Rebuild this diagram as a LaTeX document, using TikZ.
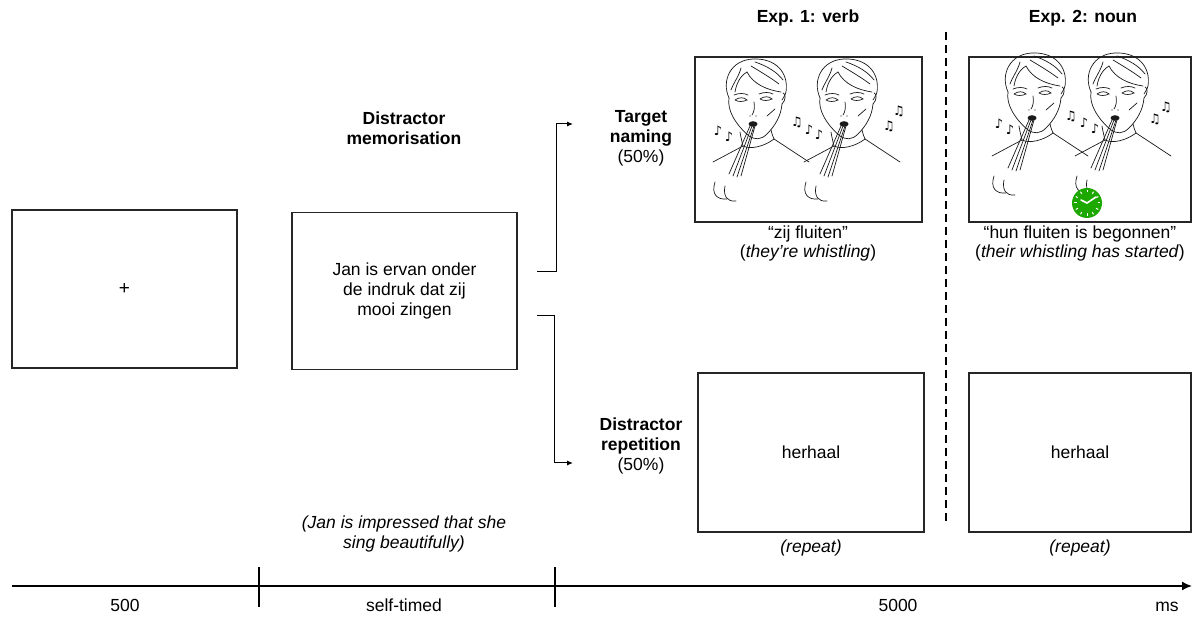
\documentclass[tikz,border=0pt]{standalone}
\usepackage{fontspec}
\setmainfont{Liberation Sans}
\newfontfamily\dejavu{DejaVu Sans}
\usetikzlibrary{arrows.meta}
\begin{document}
\begin{tikzpicture}[x=1pt,y=-1pt,
  every node/.style={font=\fontsize{17.5}{20}\selectfont, inner sep=0pt, align=center},
  screen/.style={draw=black!85, line width=1.3pt, minimum width=#1},
  lbl/.style={font=\fontsize{17.5}{20}\selectfont},
  tlbl/.style={font=\fontsize{17.5}{20}\selectfont, text height=12.6pt, text depth=3.7pt},
  blbl/.style={font=\fontsize{17.5}{20}\selectfont\bfseries},
  ilbl/.style={font=\fontsize{17.5}{20}\selectfont\itshape},
  conn/.style={line width=1pt, -{Latex[length=6pt,width=5pt]}},
  sketch/.style={line width=0.7pt, black!90, line cap=round},
  note/.style={font=\dejavu\fontsize{13}{13}\selectfont},
  tline/.style={line width=1.6pt}
]
\useasboundingbox (0,0) rectangle (1192,617);
\fill[white] (0,0) rectangle (1192,617);

% ---- boy sketch pic (origin = mouth) ----
\tikzset{boy/.pic={
  \begin{scope}[sketch]
   % face outline
   \draw (-24,-26) .. controls (-26,-14) and (-18,0) .. (-4,12) .. controls (2,16) and (8,16) .. (14,10)
         .. controls (22,2) and (28,-8) .. (29,-20);
   % ear right
   \draw (29,-20) .. controls (33,-24) and (33,-30) .. (30,-31);
   % hair
   \draw (-24,-26) .. controls (-32,-44) and (-22,-64) .. (0,-65)
         .. controls (22,-66) and (36,-52) .. (33,-32) .. controls (32,-28) and (30,-26) .. (29,-24);
   \draw (-18,-32) .. controls (-16,-44) and (-10,-50) .. (-6,-52);
   \draw (-6,-52) .. controls (0,-40) and (14,-34) .. (28,-32);
   \draw (-2,-58) .. controls (8,-52) and (18,-46) .. (26,-40);
   \draw (2,-62) .. controls (14,-58) and (24,-52) .. (30,-44);
   \draw (-12,-56) .. controls (-14,-48) and (-20,-40) .. (-22,-34);
   % eyes and brows
   \draw (-18,-24) .. controls (-14,-27) and (-9,-27) .. (-6,-24) .. controls (-10,-22) and (-15,-22) .. (-18,-24);
   \draw (7,-25) .. controls (11,-28) and (16,-28) .. (19,-25) .. controls (15,-23) and (10,-23) .. (7,-25);
   \draw (-19,-29) .. controls (-14,-31) and (-9,-31) .. (-5,-29);
   \draw (6,-30) .. controls (11,-32) and (16,-32) .. (20,-30);
   % nose
   \draw (1,-22) .. controls (2,-16) and (1,-12) .. (-1,-9);
   \fill (-3,-8) circle (0.6) (3,-8) circle (0.6);
   % cheek
   \draw (14,-8) -- (22,-15);
   % mouth
   \fill (0,0) ellipse (4.5 and 2.8);
   % neck and collar
   \draw (-13,8) .. controls (-12,14) and (-11,18) .. (-10,22);
   \draw (18,6) .. controls (19,10) and (20,13) .. (21,15);
   \draw (-10,22) .. controls (-2,26) and (12,22) .. (21,15);
   % shoulders
   \draw (-10,22) -- (-40,38);
   \draw (21,15) -- (56,38);
   % whistle beam
   \draw (-3,2) -- (-24,50);
   \draw (-1,2) -- (-20,52);
   \draw (1,2) -- (-16,53);
   \draw (2,2) -- (-12,52);
   % breath curves
   \draw (-38,58) .. controls (-42,70) and (-36,76) .. (-26,75);
   \draw (-28,62) .. controls (-30,72) and (-26,78) .. (-17,77);
  \end{scope}
}}

% ---- fixation ----
\node[screen=225pt, minimum height=158pt, font=\fontsize{19}{20}\selectfont] (fix) at (124.5,289) {+};

% ---- distractor memorisation ----
\node[blbl] (memt) at (404,128) {Distractor\\memorisation};
\node[screen=225pt, minimum height=157pt] (mem) at (404.5,291) {Jan is ervan onder\\de indruk dat zij\\mooi zingen};
\node[ilbl] (memtr) at (404,534) {(Jan is impressed that she\\sing beautifully)};

% ---- branch labels ----
\node[blbl, anchor=north] (tn) at (641,110) {Target\\naming};
\node[lbl, anchor=north] (tnp) at (641,150) {(50\%)};
\node[blbl, anchor=north] (dr) at (641,418) {Distractor\\repetition};
\node[lbl, anchor=north] (drp) at (641,458) {(50\%)};

% ---- connectors ----
\coordinate (s1) at (537,272);
\coordinate (e1) at (573,124);
\coordinate (s2) at (537,316);
\coordinate (e2) at (573,463);
\draw[conn] (s1) -- ++(19,0) |- (e1);
\draw[conn] (s2) -- ++(17,0) |- (e2);

% ---- experiment headers ----
\node[blbl] (h1) at (808,18) {Exp. 1: verb};
\node[blbl] (h2) at (1083,18) {Exp. 2: noun};
\coordinate (d1) at (946,32);
\coordinate (d2) at (946,522);
\draw[line width=1.6pt, dash pattern=on 8pt off 5pt] (d1) -- (d2);

% ---- picture screens ----
\node[screen=227pt, minimum height=165pt] (p1) at (808.5,139.5) {};
\node[screen=222pt, minimum height=165pt] (p2) at (1080,139.5) {};
\pic at (753,124) {boy};
\pic at (844,124) {boy};
\pic at (1032,118) {boy};
\pic at (1115,118) {boy};
% notes
\node[note] at (718,131) {♪};
\node[note] at (729,137) {♪};
\node[note] at (797,122) {♫};
\node[note] at (809,130) {♪};
\node[note] at (819,135) {♪};
\node[note] at (889,126) {♫};
\node[note] at (899,111) {♫};
\node[note] at (999,124) {♪};
\node[note] at (1010,130) {♪};
\node[note] at (1071,116) {♫};
\node[note] at (1084,123) {♪};
\node[note] at (1095,129) {♪};
\node[note] at (1155,119) {♫};
\node[note] at (1166,107) {♫};
% clock
\fill[green!60!black!85!lime] (1087,203) circle (15);
\foreach \a in {0,30,...,330}{
  \draw[white, line width=1pt] (1087,203) ++(\a:10.5) -- ++(\a:2.5);
}
\draw[white, line width=1.6pt, line cap=round] (1081,200) -- (1087,203) -- (1096,197);

\node[lbl] (c1) at (808,234) {“zij fluiten”};
\node[lbl] (c1t) at (808,253) {(\textit{they’re whistling})};
\node[lbl] (c2) at (1080,234) {“hun fluiten is begonnen”};
\node[lbl] (c2t) at (1080,253) {(\textit{their whistling has started})};

% ---- repeat screens ----
\node[screen=226pt, minimum height=159pt] (r1) at (811,452.5) {herhaal};
\node[screen=222pt, minimum height=159pt] (r2) at (1080,452.5) {herhaal};
\node[ilbl] (r1t) at (811,548) {(repeat)};
\node[ilbl] (r2t) at (1080,548) {(repeat)};

% ---- timeline ----
\coordinate (t0) at (12,586);
\coordinate (t1) at (1192,586);
\draw[tline, -{Latex[length=10pt,width=9pt]}] (t0) -- (t1);
\coordinate (k1a) at (259,567); \coordinate (k1b) at (259,607);
\coordinate (k2a) at (555,567); \coordinate (k2b) at (555,607);
\draw[line width=1.2pt] (k1a) -- (k1b) (k2a) -- (k2b);
\node[tlbl] (l500) at (125,607) {500};
\node[tlbl] (lself) at (404,607) {self-timed};
\node[tlbl] (l5000) at (898,607) {5000};
\node[tlbl] (lms) at (1167,607) {ms};
\end{tikzpicture}
\end{document}
